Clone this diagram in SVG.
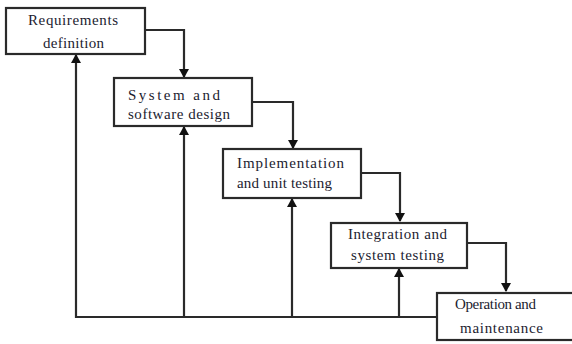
<svg xmlns="http://www.w3.org/2000/svg" width="572" height="344" viewBox="0 0 572 344">
<style>
.box{fill:#fff;stroke:#2a2a2a;stroke-width:2.2}
.t{font-family:"Liberation Serif","Times New Roman",serif;font-size:15px;fill:#1c1c30}
.c{fill:none;stroke:#2a2a2a;stroke-width:2.2}
</style>
<defs>
<marker id="ah" markerWidth="9" markerHeight="10" refX="8" refY="5" orient="auto" markerUnits="userSpaceOnUse">
<path d="M0,0 L9,5 L0,10 Z" fill="#111"/>
</marker>
</defs>
<rect width="572" height="344" fill="#fff"/>
<g id="connectors">
<path class="c" d="M145,30 H184 V77" marker-end="url(#ah)"/>
<path class="c" d="M252,102 H293 V148" marker-end="url(#ah)"/>
<path class="c" d="M361,173 H400 V221" marker-end="url(#ah)"/>
<path class="c" d="M467,243 H506 V291" marker-end="url(#ah)"/>
<path class="c" d="M437,317 H76 V55" marker-end="url(#ah)"/>
<path class="c" d="M184,317 V127" marker-end="url(#ah)"/>
<path class="c" d="M292,317 V199" marker-end="url(#ah)"/>
<path class="c" d="M399,317 V269" marker-end="url(#ah)"/>
</g>
<g id="requirements">
<rect class="box" x="6" y="8" width="139" height="46"/>
<text class="t" x="28" y="25" textLength="90" lengthAdjust="spacing">Requirements</text>
<text class="t" x="43" y="48" textLength="61" lengthAdjust="spacing">definition</text>
</g>
<g id="design">
<rect class="box" x="114" y="78" width="138" height="48"/>
<text class="t" x="128" y="100" textLength="92" lengthAdjust="spacing">System and</text>
<text class="t" x="128" y="119" textLength="102" lengthAdjust="spacing">software design</text>
</g>
<g id="implementation">
<rect class="box" x="223" y="149" width="138" height="49"/>
<text class="t" x="237" y="168" textLength="107" lengthAdjust="spacing">Implementation</text>
<text class="t" x="237" y="188" textLength="95" lengthAdjust="spacing">and unit testing</text>
</g>
<g id="integration">
<rect class="box" x="331" y="223" width="136" height="45"/>
<text class="t" x="348" y="239" textLength="99" lengthAdjust="spacing">Integration and</text>
<text class="t" x="351" y="260" textLength="93" lengthAdjust="spacing">system testing</text>
</g>
<g id="operation">
<rect class="box" x="437" y="293" width="140" height="47"/>
<text class="t" x="455" y="309" textLength="81" lengthAdjust="spacing">Operation and</text>
<text class="t" x="460" y="333" textLength="83" lengthAdjust="spacing">maintenance</text>
</g>
</svg>
